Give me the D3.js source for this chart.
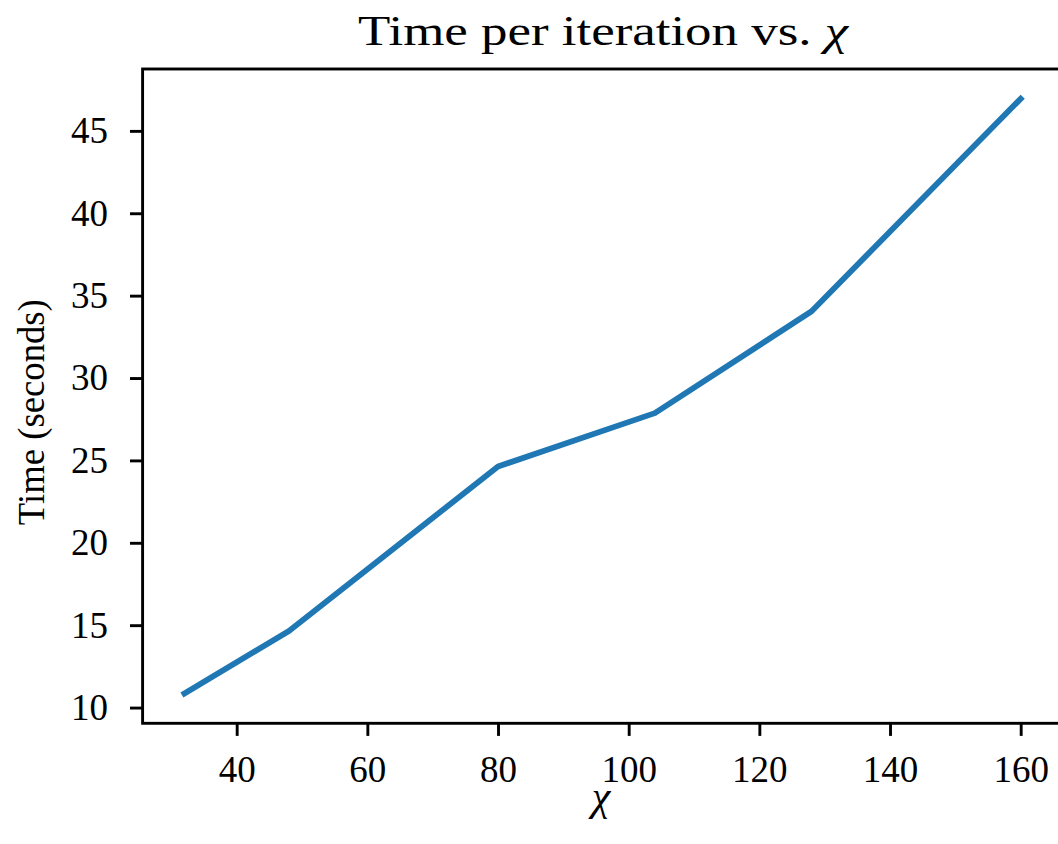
<!DOCTYPE html>
<html>
<head>
<meta charset="utf-8">
<script src="https://cdn.jsdelivr.net/npm/d3@7"></script>
<style>
  html, body { margin: 0; padding: 0; background: #fff; overflow: hidden; }
  svg { display: block; }
  text { font-family: "Liberation Serif", "DejaVu Serif", serif; fill: #000; }
</style>
</head>
<body>
<svg id="chart" width="1058" height="844"></svg>
<script>
// ---- data ----
const chiValues = [32, 48, 80, 104, 128, 160];
const timeValues = [10.85, 14.65, 24.63, 27.87, 34.05, 46.95];
const xTickValues = [40, 60, 80, 100, 120, 140, 160];
const yTickValues = [10, 15, 20, 25, 30, 35, 40, 45];
const titleText = "Time per iteration vs. ";
const xLabelText = "χ";
const yLabelText = "Time (seconds)";

(function () {
const svg = d3.select("#chart");
const pLeft = 142.6, pRight = 1062.5, pTop = 69, pBottom = 723.3;

// matplotlib-like 5% margins
const xMin = d3.min(chiValues), xMax = d3.max(chiValues);
const yMin = d3.min(timeValues), yMax = d3.max(timeValues);
const xm = (xMax - xMin) * 0.05, ym = (yMax - yMin) * 0.05;

const x = d3.scaleLinear().domain([xMin - xm, xMax + xm]).range([pLeft, pRight]);
const y = d3.scaleLinear().domain([yMin - ym, yMax + ym]).range([pBottom, pTop]);

const tickLen = 12.6, spineW = 2.9;

// line
const line = d3.line().x((d, i) => x(chiValues[i])).y(d => y(d));
svg.append("path")
  .datum(timeValues)
  .attr("d", line)
  .attr("fill", "none")
  .attr("stroke", "#1f77b4")
  .attr("stroke-width", 5.8)
  .attr("stroke-linejoin", "round")
  .attr("stroke-linecap", "square");

// spines
svg.append("rect")
  .attr("x", pLeft).attr("y", pTop)
  .attr("width", pRight - pLeft).attr("height", pBottom - pTop)
  .attr("fill", "none").attr("stroke", "#000").attr("stroke-width", spineW);

// x axis
const xAxis = d3.axisBottom(x).tickValues(xTickValues).tickSize(tickLen).tickPadding(20).tickFormat(d3.format("d"));
const gx = svg.append("g").attr("transform", `translate(0,${pBottom})`).call(xAxis);
gx.select(".domain").remove();
gx.selectAll(".tick line").attr("stroke", "#000").attr("stroke-width", spineW);
gx.selectAll(".tick text").attr("font-size", 37).attr("font-family", "Liberation Serif").attr("fill", "#000");

// y axis
const yAxis = d3.axisLeft(y).tickValues(yTickValues).tickSize(tickLen).tickPadding(22).tickFormat(d3.format("d"));
const gy = svg.append("g").attr("transform", `translate(${pLeft},0)`).call(yAxis);
gy.select(".domain").remove();
gy.selectAll(".tick line").attr("stroke", "#000").attr("stroke-width", spineW);
gy.selectAll(".tick text").attr("font-size", 37).attr("font-family", "Liberation Serif").attr("fill", "#000");

// title
const title = svg.append("text")
  .attr("x", 603).attr("y", 45)
  .attr("text-anchor", "middle")
  .attr("font-size", 43)
  .attr("textLength", 490)
  .attr("lengthAdjust", "spacingAndGlyphs");
title.append("tspan").text(titleText);
title.append("tspan").attr("font-style", "italic").text(xLabelText);

// x label
svg.append("text")
  .attr("x", 601).attr("y", 810)
  .attr("text-anchor", "middle")
  .attr("font-size", 42)
  .attr("font-style", "italic")
  .text(xLabelText);

// y label
svg.append("text")
  .attr("transform", `translate(44,${(pTop + pBottom) / 2 + 16}) rotate(-90)`)
  .attr("text-anchor", "middle")
  .attr("font-size", 37)
  .attr("textLength", 226)
  .attr("lengthAdjust", "spacingAndGlyphs")
  .text(yLabelText);
})();
</script>
</body>
</html>
